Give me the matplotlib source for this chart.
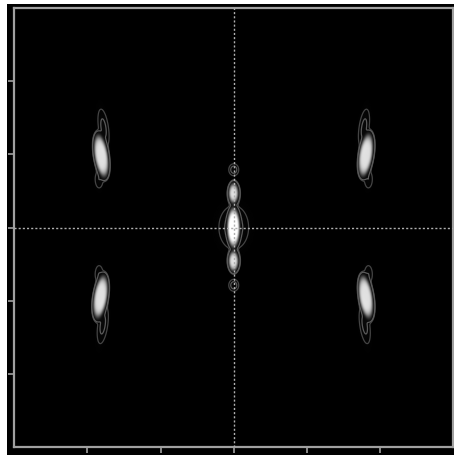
import numpy as np
import matplotlib
matplotlib.use("Agg")
import matplotlib.pyplot as plt
from matplotlib.colors import PowerNorm
from matplotlib.patches import Rectangle

# Spot catalogue: centre x, centre y, width x, width y, amplitude, tilt (deg), profile order
spot_x     = [0.0, 0.0, 0.0, 0.0, 0.0, 0.0,
              -1.81, 1.81, -1.82, 1.81,
              -1.78, 1.78, -1.79, 1.79,
              -1.84, 1.84, -1.84, 1.84]
spot_y     = [0.0, 0.0, 0.47, -0.46, 0.79, -0.79,
              0.98, 0.99, -0.95, -0.95,
              1.36, 1.36, -1.33, -1.33,
              0.66, 0.66, -0.64, -0.64]
spot_sx    = [0.075, 0.15, 0.055, 0.055, 0.05, 0.05,
              0.08, 0.08, 0.08, 0.08,
              0.055, 0.055, 0.055, 0.055,
              0.05, 0.05, 0.05, 0.05]
spot_sy    = [0.23, 0.22, 0.11, 0.11, 0.06, 0.06,
              0.25, 0.25, 0.25, 0.25,
              0.21, 0.21, 0.21, 0.21,
              0.11, 0.11, 0.11, 0.11]
spot_amp   = [0.95, 0.07, 0.85, 0.85, 0.07, 0.07,
              0.85, 0.85, 0.85, 0.85,
              0.06, 0.06, 0.06, 0.06,
              0.05, 0.05, 0.05, 0.05]
spot_tilt  = [0, 0, 0, 0, 0, 0,
              -9, 9, 9, -9,
              -8, 8, 8, -8,
              0, 0, 0, 0]
spot_order = [3, 1, 2, 2, 1, 1,
              3, 3, 3, 3,
              1, 1, 1, 1,
              1, 1, 1, 1]

tick_vals = [-2, -1, 0, 1, 2]

# Intensity field on a regular grid
xs = np.linspace(-3, 3, 800)
ys = np.linspace(-3, 3, 800)
X, Y = np.meshgrid(xs, ys)
Z = np.zeros_like(X)
for cx, cy, sx, sy, a, t, p in zip(spot_x, spot_y, spot_sx, spot_sy, spot_amp,
                                    spot_tilt, spot_order):
    th = np.deg2rad(t)
    u = (X - cx) * np.cos(th) - (Y - cy) * np.sin(th)
    v = (X - cx) * np.sin(th) + (Y - cy) * np.cos(th)
    r2 = u ** 2 / sx ** 2 + v ** 2 / sy ** 2
    Z += a * np.exp(-0.5 * r2 ** p)

W, H = 454, 455
fig = plt.figure(figsize=(W / 100, H / 100), dpi=100, facecolor="white")
fig.patches.append(Rectangle((7 / W, 0), 1, (H - 4) / H, transform=fig.transFigure,
                             facecolor="black", edgecolor="none", zorder=-10))

ax = fig.add_axes([13 / W, 8 / H, 441.5 / W, 439 / H])
ax.set_facecolor("black")
ax.imshow(Z, extent=(-3, 3, -3, 3), origin="lower", cmap="gray",
          norm=PowerNorm(gamma=1.2, vmin=0, vmax=0.95), interpolation="bilinear", zorder=1)
ax.contour(X, Y, Z, levels=[0.028, 0.05], colors=["#444444", "#5a5a5a"],
           linewidths=0.9, zorder=2)

ax.axhline(0, color="#b0b0b0", lw=1.0, ls=(0, (1.5, 1.5)), zorder=3)
ax.axvline(0, color="#b0b0b0", lw=1.0, ls=(0, (1.5, 1.5)), zorder=3)

ax.set_xlim(-3, 3)
ax.set_ylim(-3, 3)
ax.set_xticks(tick_vals)
ax.set_yticks(tick_vals)
ax.set_xticklabels([])
ax.set_yticklabels([])
ax.tick_params(direction="out", length=4, width=1.2, color="#a0a0a0")
for s in ax.spines.values():
    s.set_color("#a0a0a0")
    s.set_linewidth(1.6)

fig.savefig("out.png", dpi=100, facecolor=fig.get_facecolor())
